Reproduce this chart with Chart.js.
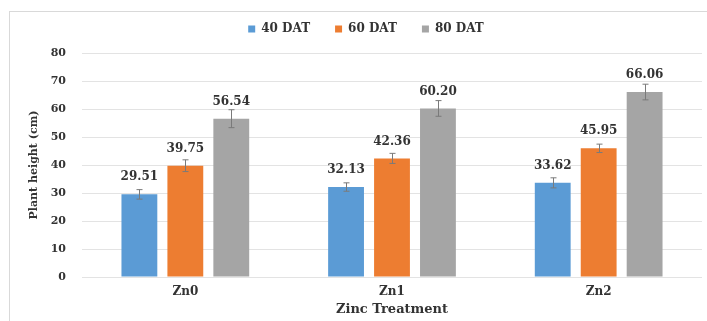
<!DOCTYPE html>
<html>
<head>
<meta charset="utf-8">
<script src="https://cdn.jsdelivr.net/npm/chart.js@4.4.1/dist/chart.umd.min.js"></script>
<style>
  html, body { margin: 0; padding: 0; background: #ffffff; width: 707px; height: 321px; overflow: hidden; }
  #frame { position: absolute; left: 9px; top: 11px; width: 698px; height: 310px;
           border-left: 1px solid #d9d9d9; border-top: 1px solid #d9d9d9; box-sizing: border-box; }
  #wrap { position: absolute; left: 0; top: 0; width: 697px; height: 309px; }
</style>
</head>
<body>
<div id="frame"><div id="wrap"><canvas id="c" width="697" height="309"></canvas></div></div>
<script>
// ---- data ----
const categories = ['Zn0', 'Zn1', 'Zn2'];
const seriesNames = ['40 DAT', '60 DAT', '80 DAT'];
const dat40 = [29.51, 32.13, 33.62];
const dat60 = [39.75, 42.36, 45.95];
const dat80 = [56.54, 60.20, 66.06];
const err40 = [1.7, 1.5, 1.8];
const err60 = [2.1, 1.8, 1.5];
const err80 = [3.2, 2.8, 2.8];
const yTicks = [0, 10, 20, 30, 40, 50, 60, 70, 80];
const yTitle = 'Plant height (cm)';
const xTitle = 'Zinc Treatment';

const colors = ['#5b9bd5', '#ed7d31', '#a5a5a5'];
const FONT = "'DejaVu Serif', 'Liberation Serif', serif";
const TXT = '#333333';

const errorBars = {
  id: 'errorBars',
  afterDatasetsDraw(chart) {
    const ctx = chart.ctx;
    const y = chart.scales.y;
    ctx.save();
    ctx.strokeStyle = '#7a7a7a';
    ctx.lineWidth = 1;
    chart.data.datasets.forEach((ds, di) => {
      const meta = chart.getDatasetMeta(di);
      meta.data.forEach((bar, i) => {
        const v = ds.data[i], e = ds.errors[i];
        const x = Math.round(bar.x) + 0.5;
        const yt = y.getPixelForValue(v + e), yb = y.getPixelForValue(v - e);
        ctx.beginPath();
        ctx.moveTo(x, yt); ctx.lineTo(x, yb);
        ctx.moveTo(x - 3, yt); ctx.lineTo(x + 3, yt);
        ctx.moveTo(x - 3, yb); ctx.lineTo(x + 3, yb);
        ctx.stroke();
      });
    });
    ctx.restore();
  }
};

const valueLabels = {
  id: 'valueLabels',
  afterDatasetsDraw(chart) {
    const ctx = chart.ctx;
    ctx.save();
    ctx.font = 'bold 12px ' + FONT;
    ctx.fillStyle = TXT;
    ctx.textAlign = 'center';
    ctx.textBaseline = 'middle';
    chart.data.datasets.forEach((ds, di) => {
      const meta = chart.getDatasetMeta(di);
      meta.data.forEach((bar, i) => {
        ctx.fillText(ds.data[i].toFixed(2), bar.x, bar.y - 17);
      });
    });
    ctx.restore();
  }
};

// legend placement tweak: adjust legend box height and nudge its drawing position
const legendPlace = {
  id: 'legendPlace',
  beforeLayout(chart) {
    const lg = chart.legend;
    if (lg && !lg._patched) {
      const of = lg.fit;
      lg.fit = function () { of.call(this); this.height -= 10; };
      lg._patched = true;
    }
  },
  afterLayout(chart) {
    const lg = chart.legend;
    if (!lg) return;
    lg.left += 10; lg.right += 10;
    lg.top -= 18; lg.bottom -= 18;
  }
};

const seriesData = [dat40, dat60, dat80];
const seriesErr = [err40, err60, err80];

new Chart(document.getElementById('c'), {
  type: 'bar',
  data: {
    labels: categories,
    datasets: seriesNames.map((n, k) => ({
      label: n,
      data: seriesData[k],
      errors: seriesErr[k],
      backgroundColor: colors[k],
      borderWidth: 0,
      categoryPercentage: 0.667,
      barPercentage: 0.78
    }))
  },
  options: {
    responsive: false,
    animation: false,
    devicePixelRatio: 1,
    layout: { padding: { left: 0, right: 5, top: 4, bottom: 0 } },
    plugins: {
      legend: {
        position: 'top',
        labels: {
          boxWidth: 7, boxHeight: 7, padding: 25,
          color: TXT,
          font: { family: FONT, size: 12, weight: 'bold' }
        }
      },
      tooltip: { enabled: false }
    },
    scales: {
      x: {
        grid: { display: false, drawTicks: false },
        border: { display: false },
        ticks: { color: TXT, padding: 8, font: { family: FONT, size: 12, weight: 'bold' } },
        title: { display: true, text: xTitle, color: TXT, padding: { top: 0, bottom: 4 },
                 font: { family: FONT, size: 13, weight: 'bold' } },
        afterFit(s) { s.height = 44; }
      },
      y: {
        min: 0, max: 80,
        afterBuildTicks(s) { s.ticks = yTicks.map(v => ({ value: v })); },
        grid: { color: '#e3e3e3', drawTicks: false, tickLength: 0 },
        border: { display: false },
        ticks: { color: TXT, padding: 16, font: { family: FONT, size: 11, weight: 'bold' } },
        title: { display: true, text: yTitle, color: TXT, padding: { top: 18, bottom: 0 },
                 font: { family: FONT, size: 11, weight: 'bold' } },
        afterFit(s) { s.width = 72; }
      }
    }
  },
  plugins: [legendPlace, errorBars, valueLabels]
});
</script>
</body>
</html>
